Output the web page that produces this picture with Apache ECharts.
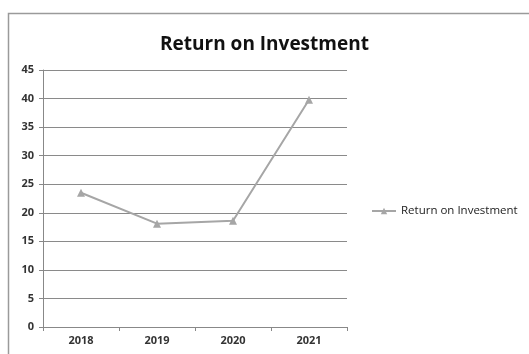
<!DOCTYPE html>
<html>
<head>
<meta charset="utf-8">
<script src="https://cdn.jsdelivr.net/npm/echarts@6/dist/echarts.min.js"></script>
<style>
html, body { margin: 0; padding: 0; background: #fff; }
#chart { width: 529px; height: 354px; }
</style>
</head>
<body>
<div id="chart"></div>
<script>
var years = ['2018', '2019', '2020', '2021']
var roi = [23.5, 18.1, 18.6, 39.8]
var seriesName = 'Return on Investment'

var myChart = echarts.init(document.getElementById('chart'))
var option = {
	animation: false,
	textStyle: { fontFamily: 'Open Sans' },
	graphic: [{
		type: 'rect',
		shape: { x: 8.5, y: 13.5, width: 560, height: 400 },
		style: { fill: 'none', stroke: '#9a9a9a', lineWidth: 1.5 },
		silent: true
	}],
	title: {
		text: 'Return on Investment',
		left: 'center',
		top: 30,
		textStyle: { fontSize: 19, fontWeight: 'bold', color: '#111' }
	},
	legend: {
		data: [seriesName],
		left: 366,
		top: 200,
		itemWidth: 24,
		itemHeight: 8,
		itemGap: 4,
		textStyle: { fontSize: 11.5, color: '#222' }
	},
	grid: { left: 43, top: 70, width: 304, height: 257, containLabel: false },
	xAxis: {
		type: 'category',
		data: years,
		boundaryGap: true,
		axisLine: { lineStyle: { color: '#888', width: 1 } },
		axisTick: { show: true, length: 4, alignWithLabel: false, lineStyle: { color: '#888' } },
		axisLabel: { fontSize: 11, fontWeight: 'bold', color: '#333', margin: 8 }
	},
	yAxis: {
		type: 'value',
		min: 0,
		max: 45,
		interval: 5,
		axisLine: { show: true, lineStyle: { color: '#888', width: 1 } },
		axisTick: { show: true, length: 4, lineStyle: { color: '#888' } },
		axisLabel: { fontSize: 11, fontWeight: 'bold', color: '#333', margin: 9 },
		splitLine: { lineStyle: { color: '#8a8a8a', width: 1 } }
	},
	series: [{
		name: seriesName,
		type: 'line',
		data: roi,
		symbol: 'triangle',
		symbolSize: 8,
		itemStyle: { color: '#a6a6a6' },
		lineStyle: { color: '#a6a6a6', width: 2 }
	}]
}
myChart.setOption(option)
</script>
</body>
</html>
